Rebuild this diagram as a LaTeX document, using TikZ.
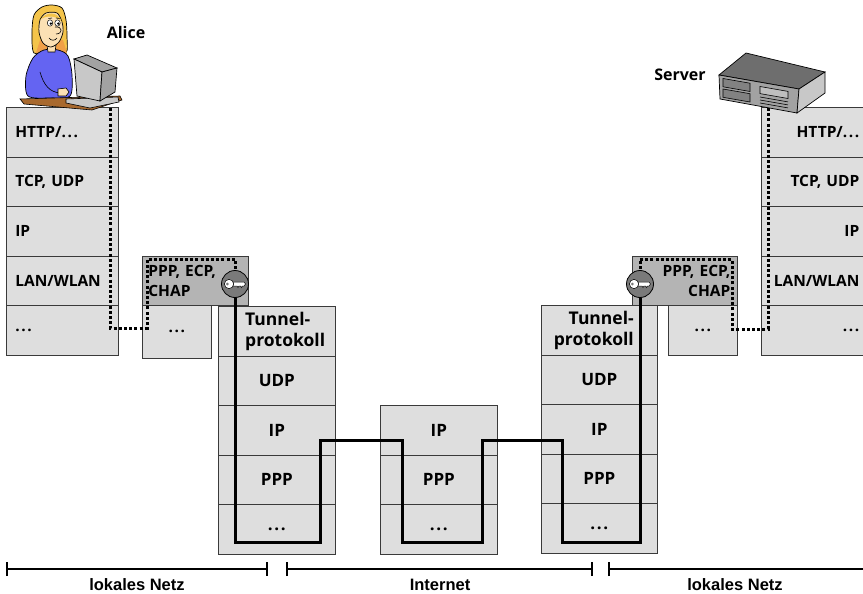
\documentclass[tikz,border=0pt]{standalone}
\usepackage{fontspec}
\setmainfont{Open Sans}
\newfontfamily\rulerfont{Liberation Sans}
\usetikzlibrary{arrows.meta}
\definecolor{layerfill}{HTML}{DEDEDE}
\definecolor{pppfill}{HTML}{B4B4B4}
\definecolor{keyfill}{HTML}{7A7A7A}
\definecolor{edgegray}{HTML}{3A3A3A}
\definecolor{hair}{HTML}{F4C44A}
\definecolor{collar}{HTML}{F0A048}
\definecolor{skin}{HTML}{FBE0B4}
\definecolor{sweater}{HTML}{6464F2}
\definecolor{desk}{HTML}{A8692E}
\definecolor{devlight}{HTML}{C8C8C8}
\definecolor{devmid}{HTML}{A2A2A2}
\definecolor{devdark}{HTML}{6E6E6E}
% spaced ellipsis as used in the layer labels
\newcommand\moredots{.\kern1.6pt.\kern1.6pt.}
\begin{document}
\begin{tikzpicture}[x=1pt,y=-1pt,
  lay/.style={draw=edgegray, line width=0.7pt, fill=layerfill, anchor=north west,
    inner ysep=0pt, minimum height=49.5pt, font=\bfseries\fontsize{15.5}{18}\selectfont},
  outerL/.style={lay, inner xsep=9pt, text width=94pt, align=left},
  outerR/.style={lay, inner xsep=5pt, text width=93pt, align=right},
  midlay/.style={lay, inner xsep=4pt, minimum width=117pt, text width=109pt, align=center,
    font=\bfseries\fontsize{17}{20}\selectfont},
  pppbox/.style={draw=edgegray, line width=0.7pt, fill=pppfill, anchor=north west,
    inner ysep=0pt, minimum height=49pt, font=\bfseries\fontsize{15.5}{20}\selectfont},
  smallbox/.style={draw=edgegray, line width=0.7pt, fill=layerfill, anchor=north west,
    inner sep=0pt, font=\bfseries\fontsize{15.5}{18}\selectfont},
  keycirc/.style={circle, draw=black, line width=0.8pt, fill=keyfill, minimum size=27pt, inner sep=0pt},
  dots/.style={line width=3pt, dash pattern=on 3pt off 2.2pt},
  tunnel/.style={line width=3pt, line join=miter},
  ruler/.style={line width=1.8pt},
  rulerlbl/.style={font=\rulerfont\bfseries\fontsize{16.5}{18}\selectfont},
  title/.style={font=\bfseries\fontsize{16}{19}\selectfont}
]
\useasboundingbox (0,0) rectangle (863,594);

% ---------- Alice's protocol stack ----------
\node[outerL] (a1) at (6,107)   {HTTP/\moredots};
\node[outerL] (a2) at (6,156.5) {TCP, UDP};
\node[outerL] (a3) at (6,206)   {IP};
\node[outerL] (a4) at (6,255.5) {LAN/WLAN};
\node[outerL] (a5) at (6,305)   {\moredots};

% ---------- server's protocol stack ----------
\node[outerR] (s1) at (761,107)   {HTTP/\moredots};
\node[outerR] (s2) at (761,156.5) {TCP, UDP};
\node[outerR] (s3) at (761,206)   {IP};
\node[outerR] (s4) at (761,255.5) {LAN/WLAN};
\node[outerR] (s5) at (761,305)   {\moredots};

% ---------- left tunnel endpoint ----------
\node[midlay] (t1) at (218,306)   {};
\node[midlay] (t2) at (218,355.5) {UDP};
\node[midlay] (t3) at (218,405)   {IP};
\node[midlay] (t4) at (218,454.5) {PPP};
\node[midlay] (t5) at (218,504)   {\moredots};
\node[anchor=west, align=left, inner sep=0pt, font=\bfseries\fontsize{17.5}{21}\selectfont]
  (t1txt) at (245,331) {Tunnel-\\protokoll};

% ---------- Internet router ----------
\node[midlay] (i1) at (380,405)   {IP};
\node[midlay] (i2) at (380,454.5) {PPP};
\node[midlay] (i3) at (380,504)   {\moredots};

% ---------- right tunnel endpoint ----------
\node[midlay, minimum width=116pt, text width=108pt] (u1) at (541,305)   {};
\node[midlay, minimum width=116pt, text width=108pt] (u2) at (541,354.5) {UDP};
\node[midlay, minimum width=116pt, text width=108pt] (u3) at (541,404)   {IP};
\node[midlay, minimum width=116pt, text width=108pt] (u4) at (541,453.5) {PPP};
\node[midlay, minimum width=116pt, text width=108pt] (u5) at (541,503)   {\moredots};
\node[anchor=east, align=right, inner sep=0pt, font=\bfseries\fontsize{17.5}{21}\selectfont]
  (u1txt) at (634,330) {Tunnel-\\protokoll};

% ---------- lower layers and PPP boxes ----------
\node[smallbox, minimum width=69pt, minimum height=53pt] (lx) at (142,305) {\moredots};
\node[smallbox, minimum width=69pt, minimum height=50pt] (rx) at (668,305) {\moredots};
\node[pppbox, inner xsep=6pt, text width=94pt, align=left, minimum width=106pt] (lp) at (142,256) {PPP, ECP,\\CHAP};
\node[pppbox, inner xsep=7pt, text width=91pt, align=right, minimum width=105pt] (rp) at (632,256) {PPP, ECP,\\CHAP};

% ---------- key symbols ----------
\node[keycirc] (keyL) at (235,284) {};
\node[keycirc] (keyR) at (640,284) {};
\foreach \k in {keyL,keyR}{
  \begin{scope}[shift={(\k.center)}]
    \draw[fill=white, line width=0.5pt] (-2,-2) -- (9,-2) -- (10.5,0) -- (9,2) -- (7.5,2) -- (6.5,3.6) -- (5.5,2) -- (4,2) -- (3,3.6) -- (2,2) -- (-2,2) -- cycle;
    \draw[fill=white, line width=0.5pt] (-6,0) circle (4.6);
    \fill[keyfill] (-7.6,0) circle (1.5);
  \end{scope}
}

% ---------- end-to-end (dotted) connections ----------
\coordinate (aport) at (110,108);
\coordinate (sport) at (768,108);
\coordinate (aLow) at (110,328);
\coordinate (lUp1) at (147,328);
\coordinate (lUp2) at (147,259);
\coordinate (lTop) at (235,259);
\coordinate (sLow) at (768,329);
\coordinate (rUp1) at (732,329);
\coordinate (rUp2) at (732,259);
\coordinate (rTop) at (640,259);
\draw[dots] (aport) -- (aLow) -- (lUp1) -- (lUp2) -- (lTop) -- (keyL.north);
\draw[dots] (sport) -- (sLow) -- (rUp1) -- (rUp2) -- (rTop) -- (keyR.north);

% ---------- tunnel path ----------
\coordinate (p1) at (235,542);
\coordinate (p2) at (320,542);
\coordinate (p3) at (320,440);
\coordinate (p4) at (402,440);
\coordinate (p5) at (402,542);
\coordinate (p6) at (482,542);
\coordinate (p7) at (482,440);
\coordinate (p8) at (562,440);
\coordinate (p9) at (562,542);
\coordinate (p10) at (640,542);
\draw[tunnel] (keyL.south) -- (p1) -- (p2) -- (p3) -- (p4) -- (p5) -- (p6) -- (p7) -- (p8) -- (p9) -- (p10) -- (keyR.south);

% ---------- network ranges ----------
\coordinate (r1) at (6,569);   \coordinate (r2) at (268,569);
\coordinate (r3) at (286,569); \coordinate (r4) at (593,569);
\coordinate (r5) at (608,569); \coordinate (r6) at (866,569);
\draw[ruler, {Bar[width=14pt]}-{Bar[width=14pt]}] (r1) -- (r2);
\draw[ruler, {Bar[width=14pt]}-{Bar[width=14pt]}] (r3) -- (r4);
\draw[ruler, {Bar[width=14pt]}-] (r5) -- (r6);
\node[rulerlbl] (n1) at (137,585) {lokales Netz};
\node[rulerlbl] (n2) at (440,585) {Internet};
\node[rulerlbl] (n3) at (735,585) {lokales Netz};

% ---------- server ----------
\draw[fill=devdark, line width=0.7pt] (719,75) -- (746,53) -- (825,72) -- (799,89) -- cycle;
\draw[fill=devmid, line width=0.7pt] (719,75) -- (799,89) -- (797,113) -- (720,99) -- cycle;
\draw[fill=devlight, line width=0.7pt] (799,89) -- (825,72) -- (825,93) -- (797,113) -- cycle;
\draw[fill=devmid!80!black, line width=0.6pt] (723,78.5) -- (750,83.2) -- (750,91.5) -- (723,86.8) -- cycle;
\draw[fill=devmid!80!black, line width=0.6pt] (723,89) -- (750,93.7) -- (750,102) -- (723,97.3) -- cycle;
\draw[fill=devmid!70!white, line width=0.6pt] (760,86.5) -- (788,91.4) -- (788,98.5) -- (760,93.6) -- cycle;
\foreach \d in {97,100,103}{\draw[line width=0.6pt] (760,\d) -- (788,\d+4.9);}
\node[title] (server) at (680,75) {Server};

% ---------- Alice ----------
\draw[fill=hair, line width=0.7pt] plot[smooth cycle] coordinates {(34,53) (32,32) (34,15) (42,7) (52,5) (62,8) (66,20) (67,36) (66,53) (50,51)};
\fill[collar] (40,40) -- (63,40) -- (67,53) -- (36,53) -- cycle;
\draw[fill=sweater, line width=0.7pt] plot[smooth cycle] coordinates {(33,58) (44,50) (58,50) (68,56) (72,75) (70,96) (50,98) (28,96) (26,76)};
\draw[fill=skin, line width=0.6pt] (47,45) -- (56,45) -- (55,52) -- (48,52) -- cycle;
\draw[fill=skin, line width=0.7pt] plot[smooth cycle] coordinates {(40,20) (46,13) (57,13) (62,22) (63,32) (59,42) (51,47) (43,43) (39,32)};
\fill[hair] (40,20) .. controls (46,11) and (58,11) .. (62,22) .. controls (56,15) and (46,15) .. cycle;
\draw[fill=white, line width=0.5pt] (50,23) ellipse (2.7 and 3.2);
\draw[fill=white, line width=0.5pt] (57.5,23) ellipse (2.7 and 3.2);
\fill (50.8,23.6) circle (1.3);
\fill (58.3,23.6) circle (1.3);
\draw[line width=0.6pt] (48.5,18.5) -- (52,18);
\draw[line width=0.6pt] (56,18) -- (59.5,18.5);
\draw[fill=skin, line width=0.6pt] (55,27) .. controls (63,26) and (63,34) .. (56,34);
\draw[line width=0.6pt] (49,38) .. controls (51,41) and (55,41) .. (57,38);
\draw[line width=0.6pt] (40,72) .. controls (44,86) and (50,92) .. (60,93);
\draw[fill=skin, line width=0.6pt] (58,89) -- (66,88) -- (69,92) -- (66,96) -- (58,96) -- cycle;
\draw[fill=desk, line width=0.6pt] (20,99) -- (120,96) -- (122,100) -- (92,110) -- (24,104) -- cycle;
\draw[fill=devlight, line width=0.6pt] (66,99) -- (118,97) -- (119,102) -- (90,108) -- (66,103) -- cycle;
\draw[fill=devmid, line width=0.7pt] (74,59) -- (87,55) -- (117,68) -- (102,72) -- cycle;
\draw[fill=devlight, line width=0.7pt] (74,59) -- (102,72) -- (100,101) -- (77,96) -- cycle;
\draw[fill=devmid, line width=0.7pt] (102,72) -- (117,68) -- (115,92) -- (100,101) -- cycle;
\node[title] (alice) at (126,33) {Alice};

\end{tikzpicture}
\end{document}
